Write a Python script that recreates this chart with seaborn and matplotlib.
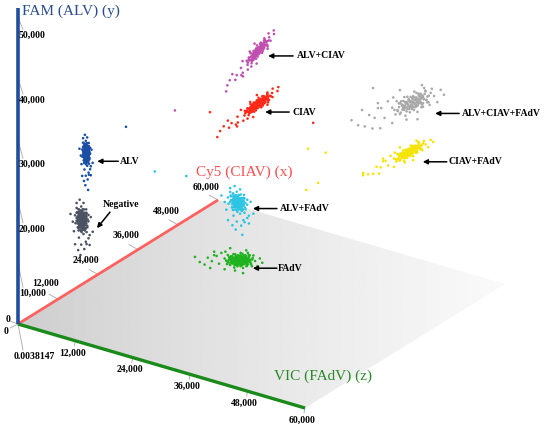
import numpy as np
import pandas as pd
import matplotlib
matplotlib.use("Agg")
import matplotlib.pyplot as plt
import seaborn as sns
from matplotlib.patches import Polygon

# ---------------- data (fluorescence amplitudes) ----------------
clusters = ["Negative", "ALV", "FAdV", "ALV+FAdV", "CIAV", "ALV+CIAV",
            "CIAV+FAdV", "ALV+CIAV+FAdV"]
center_cy5 = [8000, 9000, 8000, 8000, 62000, 62000, 62000, 62000]
center_fam = [16000, 26600, 17000, 26300, 16550, 25200, 16000, 24200]
center_vic = [7800, 8000, 40800, 40400, 7000, 7000, 38700, 39400]
# main spread direction of each cluster (cy5, fam, vic)
spread1_cy5 = [0, 0, 0, 0, 4500, 3600, 5000, 6600]
spread1_fam = [2300, 2100, 770, 1800, 300, 1070, -300, -900]
spread1_vic = [0, 0, 3350, 0, 0, 0, 0, 0]
# secondary spread direction
spread2_cy5 = [0, 0, 0, 0, 0, 0, 0, 0]
spread2_fam = [0, 0, 1400, 0, -600, -300, 1100, 2000]
spread2_vic = [1600, 950, 0, 2300, 600, 840, 0, 0]
dense = [True, True, True, False, True, False, False, False]

# droplet scatter pattern (units of cluster spread), first 40 = core
drop_a = [0.00, 0.35, -0.30, 0.15, -0.45, 0.60, -0.65, 0.25, -0.15, 0.80,
          -0.85, 0.45, -0.40, 0.05, 0.95, -0.95, 0.55, -0.60, 0.20, -0.20,
          0.40, -0.10, 0.70, -0.75, 0.10, 0.30, -0.50, 0.65, -0.25, 0.50,
          -0.35, 0.85, -0.80, 0.00, 0.15, -0.55, 0.75, -0.05, 0.45, -0.70,
          1.25, -1.30, 1.10, -1.15, 0.40, -0.30, -1.60, -1.75, 1.40, -1.45,
          -0.90, -0.95, -2.00, -2.20, -1.85, -1.60, 0.20, -0.60, -2.50, -2.80]
drop_b = [0.00, 0.10, 0.20, -0.40, -0.15, -0.20, 0.35, 0.55, -0.70, 0.25,
          -0.05, -0.65, 0.70, 0.85, -0.10, 0.20, 0.60, -0.55, -0.90, 0.40,
          0.30, 0.15, -0.45, 0.60, -0.20, -0.15, 0.05, 0.05, -0.35, 0.85,
          -0.85, 0.55, -0.45, 0.50, 0.30, 0.45, -0.70, -0.50, -0.35, -0.25,
          0.20, -0.40, -0.70, 0.85, 1.15, -1.20, 0.60, -0.10, -0.30, 0.50,
          1.00, -1.05, 0.30, -0.50, -0.90, 1.00, -1.50, 1.40, -0.20, 0.40]

# isolated droplets between clusters
stray_cluster = ["ALV", "ALV+CIAV", "ALV+FAdV", "ALV+FAdV", "CIAV+FAdV",
                 "CIAV+FAdV", "CIAV+FAdV", "CIAV+FAdV", "CIAV+FAdV",
                 "ALV+CIAV+FAdV", "ALV+CIAV+FAdV", "ALV+CIAV+FAdV",
                 "CIAV", "CIAV"]
stray_cy5 = [8000, 30000, 30000, 40000, 50000, 50000, 50000, 50000, 50000,
             55000, 55000, 55000, 60000, 55000]
stray_fam = [33300, 27400, 16500, 12300, 17600, 17800, 12500, 10800, 15900,
             24000, 28100, 21900, 17100, 16400]
stray_vic = [17000, 11900, 7700, 7300, 25800, 29500, 27900, 25400, 37300,
             33600, 35900, 37400, 19900, 1800]

colors = {"Negative": "#4b5363", "ALV": "#1a4fa5", "FAdV": "#1fb31f",
          "ALV+FAdV": "#2ec4e4", "CIAV": "#ff2a1a", "ALV+CIAV": "#c04fb0",
          "CIAV+FAdV": "#f5e400", "ALV+CIAV+FAdV": "#a9a9a9"}

fam_ticks = [10000, 20000, 30000, 40000, 50000]
cy5_ticks = [12000, 24000, 36000, 48000, 60000]
vic_ticks = [0.0038147, 12000, 24000, 36000, 48000, 60000]
vic_tick_labels = ["0.0038147", "12,000", "24,000", "36,000", "48,000", "60,000"]
axis_max = 60000

# ---------------- oblique projection onto the page ----------------
O = np.array([18.0, 324.0])
EX = np.array([200.0, -124.0]) / 60000.0   # Cy5
EY = np.array([0.0, -307.0]) / 50000.0     # FAM
EZ = np.array([287.0, 84.0]) / 60000.0     # VIC


def proj(c, f, v):
    c, f, v = np.asarray(c, float), np.asarray(f, float), np.asarray(v, float)
    return (O[0] + EX[0] * c + EY[0] * f + EZ[0] * v,
            O[1] + EX[1] * c + EY[1] * f + EZ[1] * v)


dense_layers = [(1.0, 1), (0.82, -1), (0.66, 1), (0.52, -1), (0.40, 1),
                (0.28, -1), (0.16, 1)]
sparse_layers = [(1.0, 1), (0.75, -1), (0.5, 1)]

rows = []
for i, name in enumerate(clusters):
    layers = dense_layers if dense[i] else sparse_layers
    for k, (sc, sg) in enumerate(layers):
        n = len(drop_a) if k == 0 else 40
        for j in range(n):
            a, b = drop_a[j] * sc, sg * drop_b[j] * sc
            c = center_cy5[i] + a * spread1_cy5[i] + b * spread2_cy5[i]
            f = center_fam[i] + a * spread1_fam[i] + b * spread2_fam[i]
            v = center_vic[i] + a * spread1_vic[i] + b * spread2_vic[i]
            rows.append((name, c, f, v))
for name, c, f, v in zip(stray_cluster, stray_cy5, stray_fam, stray_vic):
    rows.append((name, c, f, v))
df = pd.DataFrame(rows, columns=["cluster", "cy5", "fam", "vic"])
df["px"], df["py"] = proj(df["cy5"], df["fam"], df["vic"])

# ---------------- figure ----------------
sns.set_theme(style="white")
plt.rcParams['font.family'] = ['Liberation Serif', 'DejaVu Serif']
fig = plt.figure(figsize=(5.5, 4.3), dpi=100)
ax = fig.add_axes([0, 0, 1, 1])
ax.set_xlim(0, 550)
ax.set_ylim(430, 0)
ax.axis("off")

# floor plane (FAM = 0) with gradient
cx, cy = proj([0, axis_max, axis_max, 0], [0, 0, 0, 0], [0, 0, axis_max, axis_max])
corners = np.column_stack([cx, cy])
grad = np.tile(0.80 + 0.18 * np.linspace(0, 1, 256) ** 0.8, (2, 1))
im = ax.imshow(grad, cmap="gray", vmin=0, vmax=1, aspect="auto",
               extent=(cx.min(), cx.max(), cy.max(), cy.min()), zorder=0,
               interpolation="bilinear")
poly = Polygon(corners, closed=True, facecolor="none", edgecolor="none")
ax.add_patch(poly)
im.set_clip_path(poly)

# axes lines
x0, y0 = proj(0, 0, 0)
xa, ya = proj(axis_max, 0, 0)
ax.plot([x0, xa], [y0, ya], color="#ff6060", lw=2, zorder=2, solid_capstyle="butt")
xa, ya = proj(0, 0, axis_max)
ax.plot([x0, xa], [y0, ya], color="#1a8a1a", lw=2.4, zorder=2, solid_capstyle="butt")
xa, ya = proj(0, 51500, 0)
ax.plot([x0, xa], [y0, ya], color="#1f4e9c", lw=2.6, zorder=2, solid_capstyle="butt")

tick_kw = dict(color="#a8a8a8", lw=0.6, zorder=1)
lab_kw = dict(fontsize=7, fontweight="bold", color="black", zorder=5)

# FAM ticks (labels slide down along the slanted tick marks)
for t in fam_ticks:
    tx, ty = proj(0, t, 0)
    ly = y0 + 34 - t * 6.45 / 1000.0
    ax.plot([tx, tx + 5], [ty, ly - 6], **tick_kw)
    ax.text(tx + 1, ly, f"{t:,}", ha="left", va="center", **lab_kw)
ax.plot([x0, x0 - 8], [y0, y0 - 3], **tick_kw)
ax.plot([x0, x0 - 8], [y0, y0 + 4], **tick_kw)
ax.text(x0 - 10, y0 - 5, "0", ha="center", va="center", **lab_kw)
ax.text(x0 - 12, y0 + 8, "0", ha="center", va="center", **lab_kw)

# Cy5 ticks
cy5_label_dy = [-16, -14, -14, -14, -13]
for t, dy in zip(cy5_ticks, cy5_label_dy):
    tx, ty = proj(t, 0, 0)
    ax.plot([tx, tx - 9], [ty, ty - 5], **tick_kw)
    ax.text(tx - 12, ty + dy, f"{t:,}", ha="center", va="center", **lab_kw)

# VIC ticks
for t, lab in zip(vic_ticks, vic_tick_labels):
    tx, ty = proj(0, 0, t)
    if t < 1:
        ax.plot([tx, tx + 5], [ty, ty + 26], **tick_kw)
        ax.text(tx + 16, ty + 32, lab, ha="center", va="center", **lab_kw)
    else:
        ax.plot([tx, tx - 1], [ty, ty + 5], **tick_kw)
        ax.text(tx - 3, ty + 12, lab, ha="center", va="center", **lab_kw)

# axis titles
ax.text(x0 + 4, 11, "FAM (ALV) (y)", fontsize=11, color="#2b4d8d", ha="left", va="center")
xa, ya = proj(axis_max, 0, 0)
ax.text(xa + 26, ya - 28, "Cy5 (CIAV) (x)", fontsize=11, color="#ff4d4d", ha="center", va="center")
xa, ya = proj(0, 0, axis_max)
ax.text(xa + 18, ya - 32, "VIC (FAdV) (z)", fontsize=11, color="#2a8a2a", ha="center", va="center")

# droplets
sns.scatterplot(data=df, x="px", y="py", hue="cluster", palette=colors,
                hue_order=clusters, s=3.5, linewidth=0, legend=False, ax=ax, zorder=3)
ax.set_xlim(0, 550)
ax.set_ylim(430, 0)

# cluster annotations: (tip dx, tip dy, tail dx, tail dy, text dx, text dy)
ann = {"Negative": (15, 8, 28, -8, 21, -16),
       "ALV": (11, 8, 32, 8, 34, 8),
       "FAdV": (13, 8, 37, 8, 38, 8),
       "ALV+FAdV": (15, 6, 39, 6, 42, 6),
       "CIAV": (7, 8, 31, 8, 34, 8),
       "ALV+CIAV": (10, 5, 35, 5, 39, 5),
       "CIAV+FAdV": (13, 10, 37, 10, 39, 10),
       "ALV+CIAV+FAdV": (22, 11, 46, 11, 49, 11)}
for i, name in enumerate(clusters):
    px, py = proj(center_cy5[i], center_fam[i], center_vic[i])
    tdx, tdy, adx, ady, ldx, ldy = ann[name]
    ax.annotate("", xy=(px + tdx, py + tdy), xytext=(px + adx, py + ady),
                arrowprops=dict(arrowstyle="-|>", color="black", lw=1.1,
                                mutation_scale=7, shrinkA=0, shrinkB=0), zorder=6)
    ax.text(px + ldx, py + ldy, name, ha="left", va="center", **lab_kw)

fig.savefig("out.png", dpi=100)
